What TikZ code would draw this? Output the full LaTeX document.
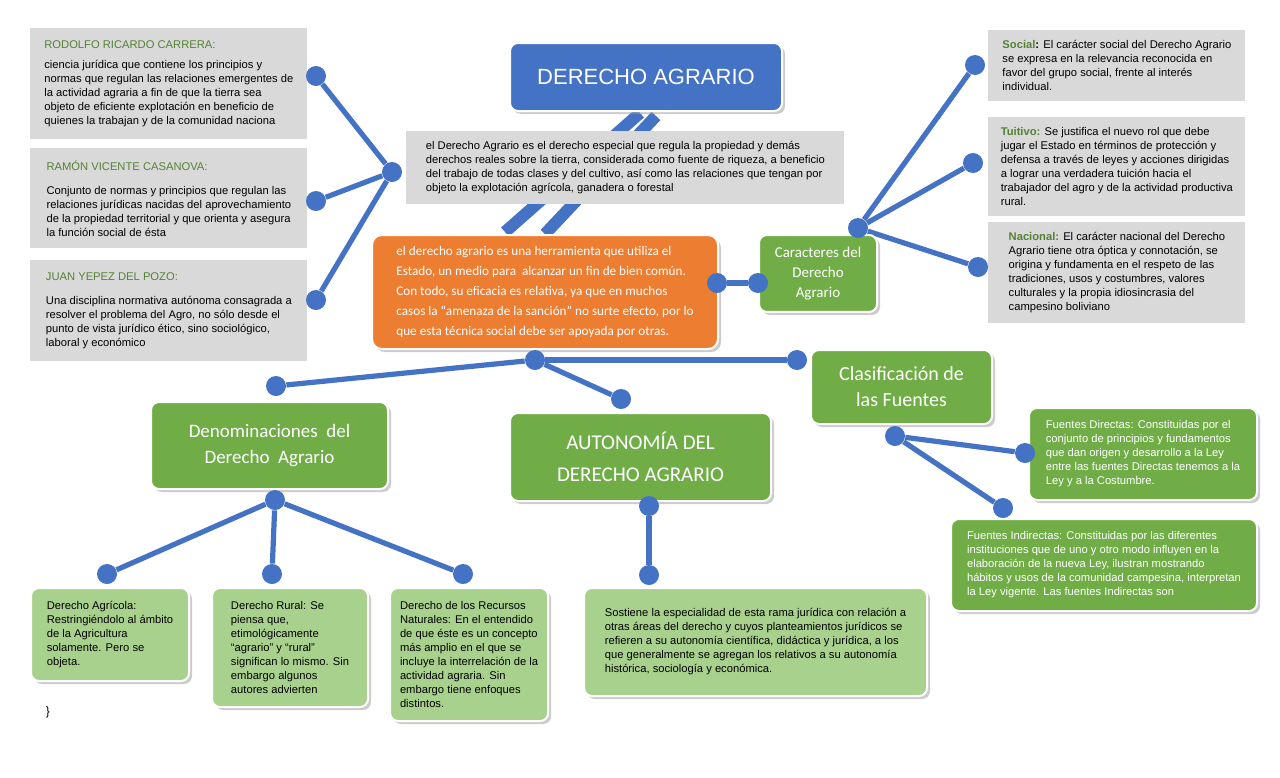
\documentclass[tikz,border=0pt]{standalone}
\usepackage{fontspec}
\setmainfont{Liberation Sans}
\newfontfamily\calib{Carlito}
\usetikzlibrary{shadows,backgrounds}
\definecolor{azul}{HTML}{4472C4}
\definecolor{verde}{HTML}{70AD47}
\definecolor{verdec}{HTML}{A9D18E}
\definecolor{naranja}{HTML}{ED7D31}
\definecolor{gris}{HTML}{D9D9D9}
\definecolor{verdet}{HTML}{548235}
\tikzset{
  caja/.style={anchor=north west, inner sep=6pt, align=left, font=\fontsize{5.6}{7}\selectfont},
  gbox/.style={caja, fill=gris},
  vbox/.style={caja, fill=verde, rounded corners=4pt, draw=white, line width=1pt,
    drop shadow={shadow xshift=1.5pt, shadow yshift=-1.5pt, fill=black!40}, text=white},
  vcbox/.style={vbox, fill=verdec, text=black},
  punto/.style={circle, fill=azul, inner sep=0pt, minimum size=10pt},
  rama/.style={azul, line width=2.6pt}
}
\begin{document}
\begin{tikzpicture}[x=0.5pt, y=-0.5pt]
\useasboundingbox (0,0) rectangle (1280,777);
% titulo
\node[caja, fill=azul, text=white, rounded corners=4pt, draw=white, line width=1pt,
  drop shadow={shadow xshift=1.5pt, shadow yshift=-1.5pt, fill=black!40},
  minimum width=136pt, minimum height=34pt, align=center, font=\fontsize{11}{13}\selectfont]
  (titulo) at (509,42) {DERECHO AGRARIO};
\node[gbox, minimum width=219pt, minimum height=36pt, inner sep=5pt] (def) at (406,131)
  {el Derecho Agrario es el derecho especial que regula la propiedad y demás\\
   derechos reales sobre la tierra, considerada como fuente de riqueza, a beneficio\\
   del trabajo de todas clases y del cultivo, así como las relaciones que tengan por\\
   objeto la explotación agrícola, ganadera o forestal};
% autores
\node[gbox, minimum width=138.5pt, minimum height=51.5pt] (rodolfo) at (30,28)
  {\textcolor{verdet}{RODOLFO RICARDO CARRERA:}\\[3pt]
   ciencia jurídica que contiene los principios y\\ normas que regulan las relaciones emergentes de\\
   la actividad agraria a fin de que la tierra sea\\ objeto de eficiente explotación en beneficio de\\
   quienes la trabajan y de la comunidad naciona};
\node[gbox, minimum width=138.5pt, minimum height=47pt] (ramon) at (30,148)
  {\textcolor{verdet}{RAMÓN VICENTE CASANOVA:}\\[5pt]
   Conjunto de normas y principios que regulan las\\ relaciones jurídicas nacidas del aprovechamiento\\
   de la propiedad territorial y que orienta y asegura\\ la función social de ésta};
\node[gbox, minimum width=138.5pt, minimum height=44pt] (juan) at (30,260)
  {\textcolor{verdet}{JUAN YEPEZ DEL POZO:}\\[5pt]
   Una disciplina normativa autónoma consagrada a\\ resolver el problema del Agro, no sólo desde el\\
   punto de vista jurídico ético, sino sociológico,\\ laboral y económico};
% definicion instrumental
\node[caja, fill=naranja, text=white, rounded corners=5pt, draw=white, line width=1pt,
  drop shadow={shadow xshift=1.5pt, shadow yshift=-1.5pt, fill=black!40},
  minimum width=173pt, minimum height=57pt, inner sep=5pt, font=\calib\fontsize{6.6}{10}\selectfont]
  (herramienta) at (371,234)
  {el derecho agrario es una herramienta que utiliza el\\ Estado, un medio para \ alcanzar un fin de bien común.\\
   Con todo, su eficacia es relativa, ya que en muchos\\ casos la “amenaza de la sanción” no surte efecto, por lo\\
   que esta técnica social debe ser apoyada por otras.};
\node[vbox, minimum width=59pt, minimum height=38pt, align=center, font=\calib\fontsize{7.5}{10}\selectfont]
  (caracteres) at (758,234) {Caracteres del\\ Derecho\\ Agrario};
% caracteres
\node[gbox, minimum width=128.5pt, minimum height=33.5pt, inner sep=5pt] (social) at (988,30)
  {\textbf{\textcolor{verdet}{Social}:} El carácter social del Derecho Agrario\\ se expresa en la relevancia reconocida en\\
   favor del grupo social, frente al interés\\ individual.};
\node[gbox, minimum width=128.5pt, minimum height=45.5pt, inner sep=5pt] (tuitivo) at (988,117)
  {\textbf{\textcolor{verdet}{Tuitivo:}} Se justifica el nuevo rol que debe\\ jugar el Estado en términos de protección y\\
   defensa a través de leyes y acciones dirigidas\\ a lograr una verdadera tuición hacia el\\
   trabajador del agro y de la actividad productiva\\ rural.};
\node[gbox, minimum width=128.5pt, minimum height=45.5pt, inner sep=5pt] (nacional) at (988,222)
  {\textbf{\textcolor{verdet}{Nacional:}} El carácter nacional del Derecho\\ Agrario tiene otra óptica y connotación, se\\
   origina y fundamenta en el respeto de las\\ tradiciones, usos y costumbres, valores\\
   culturales y la propia idiosincrasia del\\ campesino boliviano};
% clasificacion
\node[vbox, minimum width=118.5pt, minimum height=43.5pt, align=center, font=\calib\fontsize{9.5}{13}\selectfont]
  (denom) at (150,401) {Denominaciones \ del\\ Derecho \ Agrario};
\node[vbox, minimum width=130.5pt, minimum height=44pt, align=center, font=\calib\fontsize{10.5}{16}\selectfont]
  (auton) at (509,412) {AUTONOMÍA DEL\\ DERECHO AGRARIO};
\node[vbox, minimum width=90.5pt, minimum height=37pt, align=center, font=\calib\fontsize{10}{13}\selectfont]
  (clasif) at (810,349) {Clasificación de\\ las Fuentes};
% fuentes
\node[vbox, minimum width=114pt, minimum height=46pt, inner sep=5pt] (directas) at (1028,407)
  {Fuentes Directas: Constituidas por el\\ conjunto de principios y fundamentos\\ que dan origen y desarrollo a la Ley\\
   entre las fuentes Directas tenemos a la\\ Ley y a la Costumbre.};
\node[vbox, minimum width=153pt, minimum height=46pt, inner sep=5pt] (indirectas) at (950,518)
  {Fuentes Indirectas: Constituidas por las diferentes\\ instituciones que de uno y otro modo influyen en la\\
   elaboración de la nueva Ley, ilustran mostrando\\ hábitos y usos de la comunidad campesina, interpretan\\
   la Ley vigente. Las fuentes Indirectas son};
% denominaciones y autonomia
\node[vcbox, minimum width=79pt, minimum height=46.5pt, inner sep=5pt] (agricola) at (30,587)
  {Derecho Agrícola:\\ Restringiéndolo al ámbito\\ de la Agricultura\\ solamente. Pero se\\ objeta.};
\node[vcbox, minimum width=78pt, minimum height=59.5pt, inner sep=5pt] (rural) at (211,587)
  {Derecho Rural: Se\\ piensa que,\\ etimológicamente\\ “agrario” y “rural”\\ significan lo mismo. Sin\\
   embargo algunos\\ autores advierten};
\node[vcbox, minimum width=78.5pt, minimum height=66.5pt, inner sep=5pt] (recursos) at (389,587)
  {Derecho de los Recursos\\ Naturales: En el entendido\\ de que éste es un concepto\\ más amplio en el que se\\
   incluye la interrelación de la\\ actividad agraria. Sin\\ embargo tiene enfoques\\ distintos.};
\node[vcbox, minimum width=171.5pt, minimum height=54pt, inner sep=6pt] (sostiene) at (583,587)
  {Sostiene la especialidad de esta rama jurídica con relación a\\ otras áreas del derecho y cuyos planteamientos jurídicos se\\
   refieren a su autonomía científica, didáctica y jurídica, a los\\ que generalmente se agregan los relativos a su autonomía\\
   histórica, sociología y económica.};
\node[font=\fontsize{6}{7}\selectfont] (llave) at (48,712) {\}};
% puntos
\node[punto] (hizq) at (392,172) {};
\node[punto] (p1) at (316,76) {};
\node[punto] (p2) at (316,201) {};
\node[punto] (p3) at (316,300) {};
\node[punto] (hder) at (858,228) {};
\node[punto] (q1) at (975,65) {};
\node[punto] (q2) at (973,163) {};
\node[punto] (q3) at (978,267) {};
\node[punto] (o1) at (717,283) {};
\node[punto] (o2) at (758,283) {};
\node[punto] (hcen) at (535,360) {};
\node[punto] (c1) at (276,386) {};
\node[punto] (c2) at (797,360) {};
\node[punto] (c3) at (621,399) {};
\node[punto] (hden) at (275,500) {};
\node[punto] (d1) at (107,574) {};
\node[punto] (d2) at (272,574) {};
\node[punto] (d3) at (463,574) {};
\node[punto] (haut) at (649,506) {};
\node[punto] (a1) at (649,575) {};
\node[punto] (hcla) at (895,436) {};
\node[punto] (f1) at (1025,453) {};
\node[punto] (f2) at (1003,508) {};
% ramas
\begin{scope}[on background layer]
  \draw[azul, line width=6pt] (titulo.south) ++(10,4) -- (herramienta.north) ++(-40,0);
  \draw[azul, line width=6pt] (640,113) -- (505,232);
  \foreach \p in {p1,p2,p3} \draw[rama] (hizq) -- (\p);
  \foreach \q in {q1,q2,q3} \draw[rama] (hder) -- (\q);
  \draw[rama] (o1) -- (o2);
  \foreach \c in {c1,c2,c3} \draw[rama] (hcen) -- (\c);
  \foreach \d in {d1,d2,d3} \draw[rama] (hden) -- (\d);
  \draw[rama] (haut) -- (a1);
  \foreach \f in {f1,f2} \draw[rama] (hcla) -- (\f);
\end{scope}
\end{tikzpicture}
\end{document}
